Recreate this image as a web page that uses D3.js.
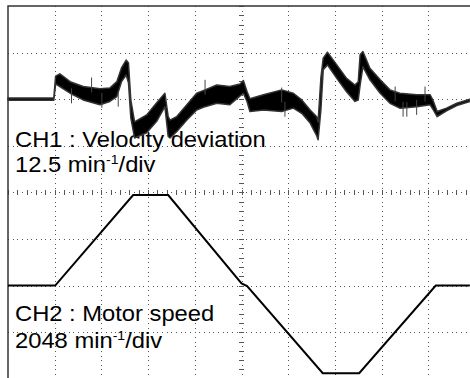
<!DOCTYPE html>
<html>
<head>
<meta charset="utf-8">
<script src="https://cdn.jsdelivr.net/npm/d3@7"></script>
<style>
  html, body { margin: 0; padding: 0; background: #fff; }
  svg { display: block; }
  text { font-family: "Liberation Sans", Arial, sans-serif; fill: #000; }
</style>
</head>
<body>
<svg id="scope" width="470" height="378"></svg>
<script>
// time in divisions (10 div across the screen)
// CH1 : velocity deviation, min^-1 (12.5 min^-1/div), noisy trace kept as upper/lower envelope
var ch1Time  = [0, 0.98, 1.02, 1.11, 1.33, 1.61, 1.97, 2.18, 2.33, 2.43, 2.53, 2.58, 2.63, 2.71, 2.97,
                3.18, 3.36, 3.43, 3.47, 3.61, 3.83, 4.04, 4.22, 4.47, 4.75, 4.97, 5.04, 5.12, 5.18,
                5.47, 5.86, 6.11, 6.29, 6.47, 6.61, 6.64, 6.70, 6.75, 6.84, 7.04, 7.25, 7.43, 7.50,
                7.54, 7.60, 7.75, 7.97, 8.18, 8.39, 8.75, 9.04, 9.11, 9.19, 9.39, 9.61, 9.89];
var ch1Upper = [0.3, 0.3, 6.2, 6.8, 4.7, 3.4, 2.8, 3.0, 4.7, 8.4, 10.5, 9.7, -0.2, -6.1, -4.2,
                -1.0, 1.6, -4.7, -5.6, -4.7, -1.5, 1.6, 2.5, 3.8, 3.4, 4.1, 5.0, 2.0, 0.1,
                1.2, 2.5, 1.6, -0.2, -2.9, -4.7, -6.1, 5.7, 11.0, 12.6, 9.2, 5.6, 3.8, 4.7,
                11.9, 12.8, 8.3, 5.2, 2.5, 1.6, 1.2, 1.2, -0.6, -3.3, -2.4, -1.1, 0];
var ch1Lower = [-0.3, -0.3, 4.1, 3.4, 1.6, -0.2, -1.5, -0.6, 0.7, 4.7, 6.5, 4.4, -5.0, -10.4, -9.0,
                -6.0, -2.0, -10.0, -10.4, -8.7, -5.6, -2.9, -2.0, -1.1, -1.5, 0.9, 1.6, -0.7, -3.3,
                -2.9, -3.3, -2.4, -3.8, -6.4, -9.8, -10.9, -2.9, 7.9, 9.2, 5.6, 2.0, -0.6, -0.2,
                3.8, 8.7, 5.2, 1.6, -1.1, -2.4, -2.0, -1.5, -2.9, -4.7, -3.1, -1.7, -0.6];

// single noise spikes sticking out of the band
var spikeTime  = [1.36, 1.79, 2.01, 2.36, 4.22, 5.86, 5.93, 8.29, 8.46, 8.54, 8.75, 8.93];
var spikeValue = [-1.1, 5.8, -2.3, -2.0, 5.2, 3.1, -4.7, 3.4, -4.7, -4.7, -4.2, 3.4];

// CH2 : motor speed, min^-1 (2048 min^-1/div)
var ch2Time  = [0, 1.01, 2.68, 3.43, 5.00, 5.12, 6.74, 7.52, 9.16, 9.89];
var ch2Speed = [0, 0, 3980, 3980, 100, -20, -3850, -3850, 0, 0];

var labels = [
  { main: "CH1 : Velocity deviation", unit: "12.5", row: 0 },
  { main: "CH2 : Motor speed", unit: "2048", row: 1 }
];

var svg = d3.select("#scope");

// screen: 10 x 8 divisions
var x = d3.scaleLinear().domain([0, 10]).range([8, 475]);
var gy = d3.scaleLinear().domain([0, 8]).range([6, 378.8]);
// CH1 ground is 2 div below top, CH2 ground 6 div below top
var yCh1 = d3.scaleLinear().domain([-6 * 12.5, 2 * 12.5]).range([378.8, 6]);
var yCh2 = d3.scaleLinear().domain([-2 * 2048, 6 * 2048]).range([378.8, 6]);

svg.append("rect").attr("width", 470).attr("height", 378).attr("fill", "#fff");

// dotted graticule: one dot every 1/10 division
var grid = svg.append("g").attr("class", "grid").attr("shape-rendering", "crispEdges");
var dots = [];
d3.range(1, 10).forEach(function(c) {
  d3.range(0, 80).forEach(function(k) { dots.push([x(c), gy(k / 10)]); });
});
d3.range(1, 8).forEach(function(r) {
  d3.range(0, 100).forEach(function(k) { dots.push([x(k / 10), gy(r)]); });
});

grid.selectAll("rect.dot")
  .data(dots)
  .enter().append("rect")
    .attr("class", "dot")
    .attr("x", function(d) { return Math.round(d[0]) - 0.5; })
    .attr("y", function(d) { return Math.round(d[1]) - 0.5; })
    .attr("width", 1)
    .attr("height", 1)
    .attr("fill", "#555");

// minor ticks on the centre cross
var hAxis = grid.append("g")
  .attr("transform", "translate(0," + (gy(4) - 2.5) + ")")
  .call(d3.axisBottom(x).tickValues(d3.range(0, 10.01, 0.2)).tickSize(5).tickFormat(""));
var vAxis = grid.append("g")
  .attr("transform", "translate(" + (x(5) + 2.5) + ",0)")
  .call(d3.axisLeft(gy).tickValues(d3.range(0, 8.01, 0.2)).tickSize(5).tickFormat(""));
[hAxis, vAxis].forEach(function(a) {
  a.select(".domain").remove();
  a.selectAll(".tick line").attr("stroke", "#555").attr("stroke-width", 1);
});

// frame (right and bottom edges fall outside the shot)
svg.append("path")
  .attr("d", "M" + x(0) + "," + gy(8) + "V" + gy(0) + "H" + x(10))
  .attr("fill", "none")
  .attr("stroke", "#333")
  .attr("stroke-width", 1.5);

// labels
var label = svg.append("g").attr("class", "labels");
var baseY = [[147, 172.5], [321.5, 348.5]];
labels.forEach(function(l) {
  var g = label.append("g")
    .attr("transform", "translate(15,0) scale(1.08,1)");
  g.append("text")
    .attr("x", 0).attr("y", baseY[l.row][0])
    .attr("font-size", 22)
    .text(l.main);
  var t = g.append("text")
    .attr("x", 0).attr("y", baseY[l.row][1])
    .attr("font-size", 22);
  t.append("tspan").text(l.unit + " min");
  t.append("tspan").attr("font-size", 13).attr("dy", -8).text("-1");
  t.append("tspan").attr("dy", 8).text("/div");
});

// CH1 trace
var ch1 = ch1Time.map(function(t, i) { return { t: t, hi: ch1Upper[i], lo: ch1Lower[i] }; });
var band = d3.area()
  .x(function(d) { return x(d.t); })
  .y0(function(d) { return yCh1(d.lo); })
  .y1(function(d) { return yCh1(d.hi); });

svg.append("path")
  .datum(ch1)
  .attr("d", band)
  .attr("fill", "#000")
  .attr("stroke", "#333")
  .attr("stroke-width", 1.5)
  .attr("stroke-linejoin", "round");

svg.append("g").selectAll("line")
  .data(spikeTime.map(function(t, i) { return { t: t, v: spikeValue[i] }; }))
  .enter().append("line")
    .attr("x1", function(d) { return x(d.t); })
    .attr("x2", function(d) { return x(d.t); })
    .attr("y1", function(d) { return yCh1(d.v > 0 ? d.v - 4 : d.v + 4); })
    .attr("y2", function(d) { return yCh1(d.v); })
    .attr("stroke", "#444")
    .attr("stroke-width", 1);

// CH2 trace
var speedLine = d3.line()
  .x(function(d) { return x(d[0]); })
  .y(function(d) { return yCh2(d[1]); });

svg.append("path")
  .datum(ch2Time.map(function(t, i) { return [t, ch2Speed[i]]; }))
  .attr("d", speedLine)
  .attr("fill", "none")
  .attr("stroke", "#000")
  .attr("stroke-width", 2);
</script>
</body>
</html>
